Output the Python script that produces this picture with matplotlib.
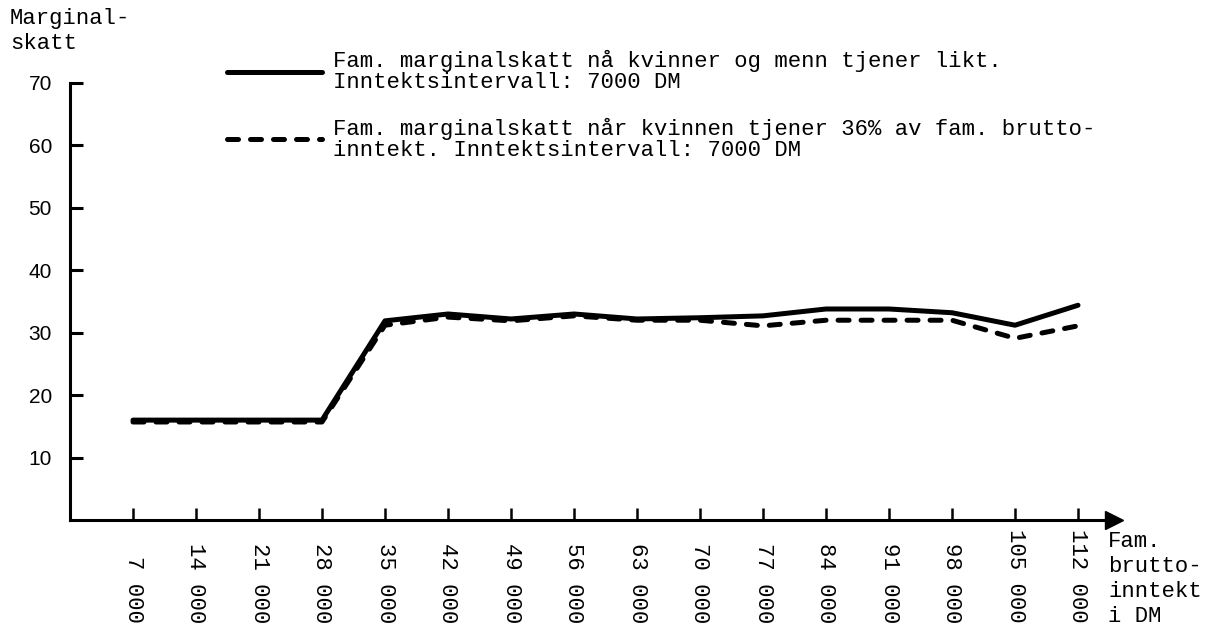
import matplotlib
matplotlib.use("Agg")
import matplotlib.pyplot as plt

# income in thousands DM
income = [7, 14, 21, 28, 35, 42, 49, 56, 63, 70, 77, 84, 91, 98, 105, 112]
tick_labels = ["7 000", "14 000", "21 000", "28 000", "35 000", "42 000", "49 000", "56 000",
               "63 000", "70 000", "77 000", "84 000", "91 000", "98 000", "105 000", "112 000"]
equal_pay = [16, 16, 16, 16, 31.9, 33.0, 32.2, 33.0, 32.2, 32.4, 32.7, 33.8, 33.8, 33.2, 31.2, 34.4]
women_36 = [15.7, 15.7, 15.7, 15.7, 31.2, 32.5, 31.9, 32.7, 32.0, 32.0, 31.1, 32.0, 32.0, 32.0, 29.1, 31.1]
y_ticks = [10, 20, 30, 40, 50, 60, 70]

label_solid = "Fam. marginalskatt nå kvinner og menn tjener likt.\nInntektsintervall: 7000 DM"
label_dashed = "Fam. marginalskatt når kvinnen tjener 36% av fam. brutto-\ninntekt. Inntektsintervall: 7000 DM"

mono = "Liberation Mono"
sans = "Liberation Sans"

W, H = 1211, 632
fig = plt.figure(figsize=(W / 100, H / 100), dpi=100)
ax = fig.add_axes([70 / W, (H - 520) / H, (1114 - 70) / W, (520 - 83) / H])

ax.plot(income, equal_pay, color="black", lw=3.6, solid_capstyle="round", solid_joinstyle="round",
        label=label_solid)
ax.plot(income, women_36, color="black", lw=3.6, linestyle=(0, (2.2, 2.4)),
        dash_capstyle="round", label=label_dashed)

ax.set_xlim(0, 116)
ax.set_ylim(0, 70)

for s in ["top", "right"]:
    ax.spines[s].set_visible(False)
ax.spines["left"].set_linewidth(2.2)
ax.spines["bottom"].set_linewidth(2.2)

ax.set_yticks(y_ticks)
ax.set_yticklabels([str(v) for v in y_ticks], fontfamily=sans, fontsize=15)
ax.tick_params(axis="y", direction="in", length=9, width=2.2, pad=13)
ax.set_xticks(income)
ax.set_xticklabels([])
ax.tick_params(axis="x", direction="in", length=9, width=1.8)

# rotated tick labels, aligned at their end
lbl_y = -(623 - 520) / (520 - 83)
for x, t in zip(income, tick_labels):
    ax.text(x, lbl_y, t, rotation=-90, rotation_mode="anchor", ha="right", va="center",
            fontfamily=mono, fontsize=16, transform=ax.get_xaxis_transform())

# arrow at the end of the x axis
ax.plot(1, 0, marker=">", color="black", markersize=13, transform=ax.transAxes, clip_on=False)

fig.text(10 / W, 1 - 8 / H, "Marginal-\nskatt", fontfamily=mono, fontsize=16, va="top", ha="left",
         linespacing=1.25)
fig.text(1108 / W, 1 - 531 / H, "Fam.\nbrutto-\ninntekt\ni DM", fontfamily=mono, fontsize=16,
         va="top", ha="left", linespacing=1.25)

leg = ax.legend(loc="upper left", bbox_to_anchor=(227 / W, 1 - 50 / H), bbox_transform=fig.transFigure,
                frameon=False, prop={"family": mono, "size": 16}, handlelength=4.28,
                handletextpad=0.5, labelspacing=1.1, borderaxespad=0, borderpad=0)
for t in leg.get_texts():
    t.set_linespacing(1.0)

fig.savefig("out.png", dpi=100)
